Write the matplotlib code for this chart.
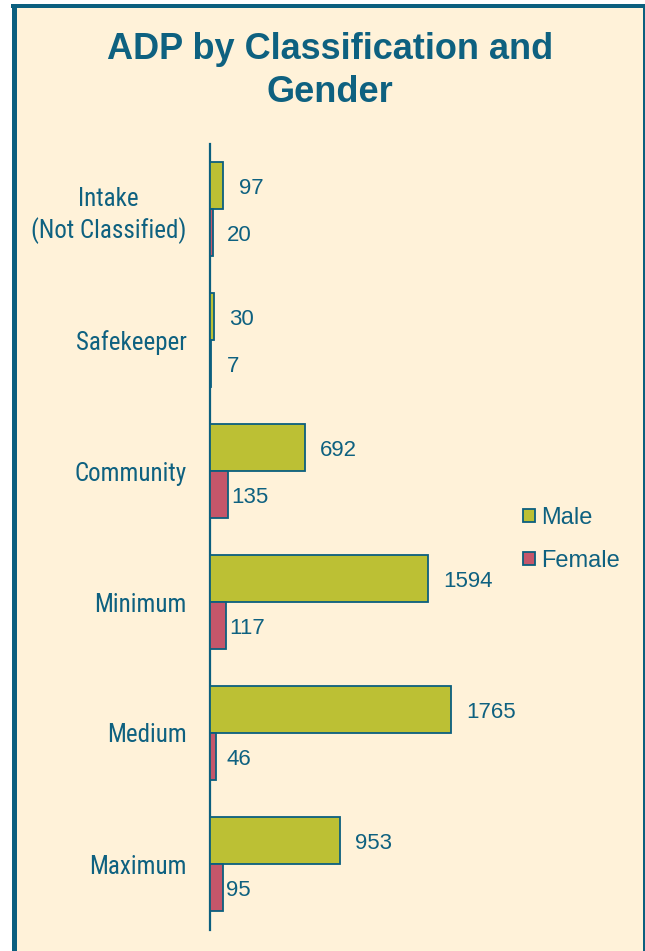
import matplotlib
matplotlib.use("Agg")
import matplotlib.pyplot as plt
from matplotlib import font_manager
from matplotlib.patches import Rectangle, Patch
from matplotlib.lines import Line2D
import numpy as np

categories = ["Intake\n(Not Classified)", "Safekeeper", "Community", "Minimum", "Medium", "Maximum"]
male = [97, 30, 692, 1594, 1765, 953]
female = [20, 7, 135, 117, 46, 95]
series_names = ["Male", "Female"]
title = "ADP by Classification and\nGender"

TEAL = "#0B5F7F"
TEXT = "#0E6180"
CREAM = "#FFF2D9"
MALE_C = "#BCC034"
FEMALE_C = "#C5566A"

names = {f.name for f in font_manager.fontManager.ttflist}
SANS = "Liberation Sans" if "Liberation Sans" in names else "DejaVu Sans"

# look for a condensed / narrow sans face (regular weight) for category labels
narrow_prop = None
for pref in ["Liberation Sans Narrow", "Arial Narrow"]:
    if pref in names:
        narrow_prop = font_manager.FontProperties(family=pref, size=18)
        break
if narrow_prop is None:
    bad = ["bold", "oblique", "italic", "mono", "serif", "medium", "semi", "black",
           "light", "thin", "extra", "heavy", "cjk"]
    cands = []
    for f in font_manager.fontManager.ttflist:
        fn = f.fname.lower()
        if ("narrow" in fn or "condensed" in fn) and not any(b in fn for b in bad):
            score = 0 if "roboto" in fn else 4
            score += 0 if "regular" in fn else 1
            cands.append((score, f.fname))
    if cands:
        cands.sort()
        narrow_prop = font_manager.FontProperties(fname=cands[0][1], size=18)
if narrow_prop is None:
    narrow_prop = font_manager.FontProperties(family=SANS, size=17)
    cat_ls = 1.5
else:
    cat_ls = 1.3

W, H = 645, 951
fig = plt.figure(figsize=(W / 100, H / 100), dpi=100)
fig.patch.set_facecolor("white")

def fx(px):
    return px / W

def fy(py):
    return 1 - py / H

# cream panel and frame
fig.patches.append(Rectangle((fx(13), 0), fx(644) - fx(13), fy(6), transform=fig.transFigure,
                             facecolor=CREAM, edgecolor="none", zorder=-10))
fig.add_artist(Line2D([fx(13.5), fx(13.5)], [0, fy(4)], transform=fig.transFigure,
                      color=TEAL, lw=5 * 0.72, solid_capstyle="butt", zorder=5))
fig.add_artist(Line2D([fx(11), 1], [fy(6), fy(6)], transform=fig.transFigure,
                      color=TEAL, lw=4 * 0.72, solid_capstyle="butt", zorder=5))
fig.add_artist(Line2D([fx(644), fx(644)], [0, fy(4)], transform=fig.transFigure,
                      color=TEAL, lw=2 * 0.72, solid_capstyle="butt", zorder=5))

fig.text(fx(330), fy(71), title, ha="center", va="center", fontsize=26, fontweight="bold",
         color=TEXT, family=SANS, linespacing=1.32)

# axes
ax_left, ax_top, ax_bot = 210, 143.5, 929.5
xmax = 2000
px_per_unit = 0.1366
ax = fig.add_axes([fx(ax_left), fy(ax_bot), xmax * px_per_unit / W, (ax_bot - ax_top) / H])
ax.set_facecolor("none")
ax.set_zorder(2)

y = np.arange(len(categories))
h = 0.36
ax.barh(y - h / 2, male, height=h, color=MALE_C, edgecolor=TEAL, linewidth=1.3, label=series_names[0], zorder=3)
ax.barh(y + h / 2, female, height=h, color=FEMALE_C, edgecolor=TEAL, linewidth=1.3, label=series_names[1], zorder=3)

ax.set_xlim(0, xmax)
ax.set_ylim(len(categories) - 0.5, -0.5)
for s in ["top", "right", "bottom"]:
    ax.spines[s].set_visible(False)
ax.spines["left"].set_color(TEAL)
ax.spines["left"].set_linewidth(1.6)
ax.set_xticks([])
ax.set_yticks(y)
ax.set_yticklabels(categories)
ax.tick_params(axis="y", length=0, pad=17)
for t in ax.get_yticklabels():
    t.set_fontproperties(narrow_prop)
    t.set_color(TEXT)
    t.set_multialignment("center")
    t.set_linespacing(cat_ls)

for yi, v in zip(y, male):
    ax.annotate(str(v), xy=(v, yi - h / 2), xytext=(11, -2), textcoords="offset points",
                ha="left", va="center", fontsize=16, color=TEXT, family=SANS, annotation_clip=False)
for yi, v in zip(y, female):
    ax.annotate(str(v), xy=(max(v, 100), yi + h / 2), xytext=(2, -2), textcoords="offset points",
                ha="left", va="center", fontsize=16, color=TEXT, family=SANS, annotation_clip=False)

handles = [Patch(facecolor=MALE_C, edgecolor=TEAL, linewidth=1.3),
           Patch(facecolor=FEMALE_C, edgecolor=TEAL, linewidth=1.3)]
fig.legend(handles, series_names, loc="upper left", bbox_to_anchor=(fx(523), fy(507)),
           frameon=False, handlelength=0.5, handleheight=0.5, handletextpad=0.25,
           labelspacing=0.88, borderpad=0, borderaxespad=0, labelcolor=TEXT,
           prop={"family": SANS, "size": 17})

fig.savefig("out.png", dpi=100, facecolor=fig.get_facecolor())
